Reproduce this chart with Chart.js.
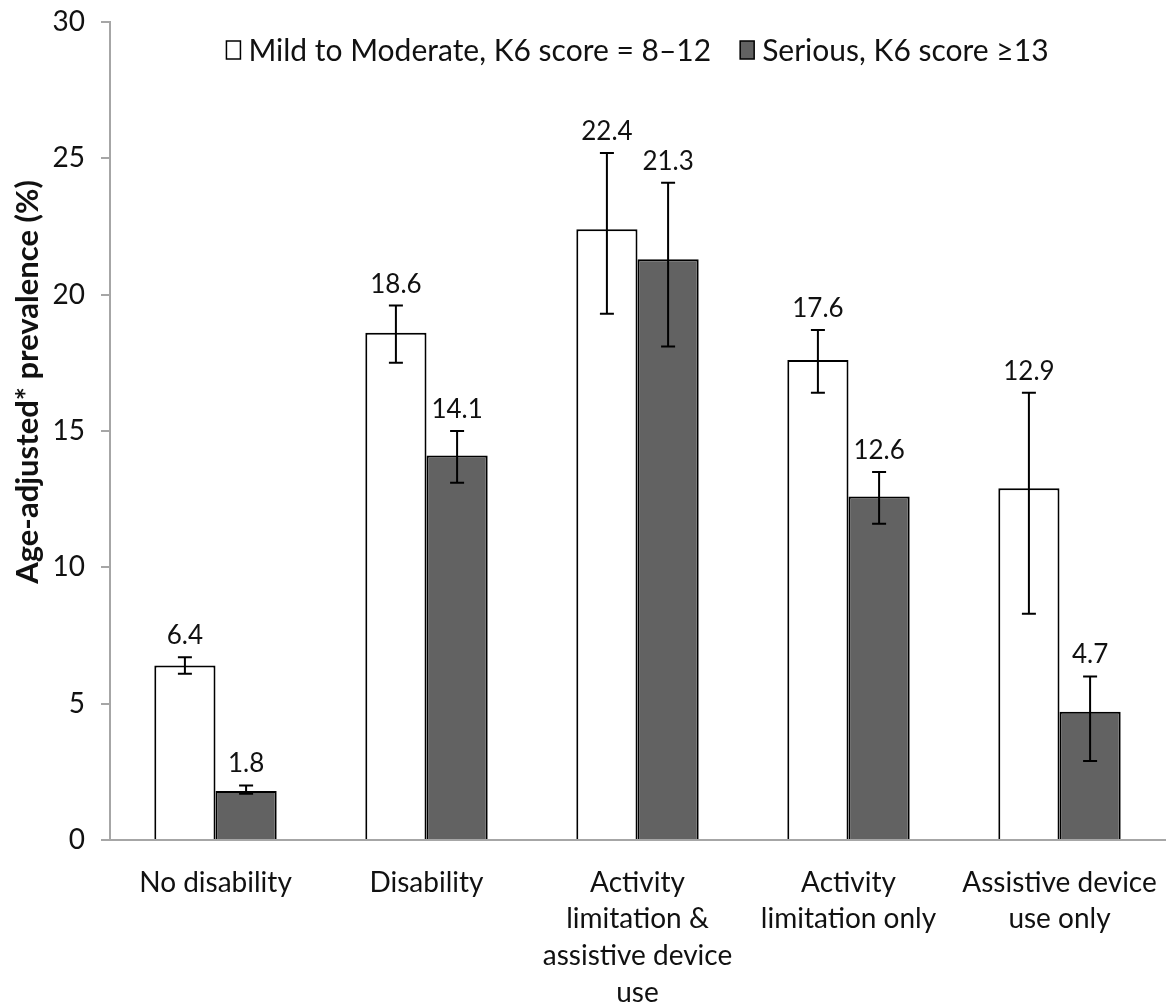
<!DOCTYPE html>
<html>
<head>
<meta charset="utf-8">
<script src="https://cdn.jsdelivr.net/npm/chart.js@4/dist/chart.umd.min.js"></script>
<style>
  html, body { margin: 0; padding: 0; background: #fff; }
  #wrap { width: 1166px; height: 1007px; }
</style>
</head>
<body>
<div id="wrap"><canvas id="chart" width="1166" height="1007"></canvas></div>
<script>
const categories = [
    ['No disability'],
    ['Disability'],
    ['Activity', 'limitation &', 'assistive device', 'use'],
    ['Activity', 'limitation only'],
    ['Assistive device', 'use only']
];
const seriesNames = ['Mild to Moderate, K6 score = 8–12', 'Serious, K6 score ≥13'];
const mildValues = [6.4, 18.6, 22.4, 17.6, 12.9];
const mildLow = [6.1, 17.5, 19.3, 16.4, 8.3];
const mildHigh = [6.7, 19.6, 25.2, 18.7, 16.4];
const seriousValues = [1.8, 14.1, 21.3, 12.6, 4.7];
const seriousLow = [1.7, 13.1, 18.1, 11.6, 2.9];
const seriousHigh = [2.0, 15.0, 24.1, 13.5, 6.0];
const yMin = 0, yMax = 30, yStep = 5;
const yTitle = 'Age-adjusted* prevalence (%)';

const FONT = 'Lato, "Open Sans", sans-serif';
const errorLow = [mildLow, seriousLow];
const errorHigh = [mildHigh, seriousHigh];

// barras de erro + rótulos de valor
const errorBars = {
    id: 'errorBars',
    afterDatasetsDraw(chart) {
        const ctx = chart.ctx;
        const y = chart.scales.y;
        ctx.save();
        chart.data.datasets.forEach((ds, di) => {
            const meta = chart.getDatasetMeta(di);
            meta.data.forEach((bar, i) => {
                const top = y.getPixelForValue(errorHigh[di][i]);
                const bot = y.getPixelForValue(errorLow[di][i]);
                ctx.strokeStyle = '#000';
                ctx.lineWidth = 2;
                ctx.beginPath();
                ctx.moveTo(bar.x, top); ctx.lineTo(bar.x, bot);
                ctx.moveTo(bar.x - 7, top); ctx.lineTo(bar.x + 7, top);
                ctx.moveTo(bar.x - 7, bot); ctx.lineTo(bar.x + 7, bot);
                ctx.stroke();
                ctx.fillStyle = '#111';
                ctx.font = '26px ' + FONT;
                ctx.textAlign = 'center';
                ctx.textBaseline = 'alphabetic';
                ctx.fillText(ds.data[i].toFixed(1), bar.x, top - 13);
            });
        });
        ctx.restore();
    }
};

// legenda dentro da área do gráfico + título do eixo y
const innerLegend = {
    id: 'innerLegend',
    afterDraw(chart) {
        const ctx = chart.ctx;
        const area = chart.chartArea;
        ctx.save();
        ctx.font = '30px ' + FONT;
        ctx.textBaseline = 'middle';
        ctx.textAlign = 'left';
        const boxW = 14, boxH = 18, gapBox = 8, gapItem = 29;
        const items = chart.data.datasets.map(ds => ({ ds, w: boxW + gapBox + ctx.measureText(ds.label).width }));
        const total = items.reduce((s, it) => s + it.w, 0) + gapItem * (items.length - 1);
        let x = (area.left + area.right) / 2 - total / 2;
        const cy = area.top + 28;
        items.forEach(it => {
            ctx.fillStyle = it.ds.backgroundColor;
            ctx.fillRect(x, cy - boxH / 2, boxW, boxH);
            ctx.strokeStyle = '#000';
            ctx.lineWidth = 1.5;
            ctx.strokeRect(x, cy - boxH / 2, boxW, boxH);
            ctx.fillStyle = '#111';
            ctx.fillText(it.ds.label, x + boxW + gapBox, cy + 1);
            x += it.w + gapItem;
        });

        // título do eixo (posição como no original, acima do centro)
        ctx.translate(28, chart.scales.y.getPixelForValue(16.8));
        ctx.rotate(-Math.PI / 2);
        ctx.font = 'bold 31px ' + FONT;
        ctx.textAlign = 'center';
        ctx.fillText(yTitle, 0, 0);
        ctx.restore();
    }
};

new Chart(document.getElementById('chart'), {
    type: 'bar',
    data: {
        labels: categories,
        datasets: [
            {
                label: seriesNames[0],
                data: mildValues,
                backgroundColor: '#ffffff',
                borderColor: '#000000',
                borderWidth: 2,
                categoryPercentage: 0.58,
                barPercentage: 1.0
            },
            {
                label: seriesNames[1],
                data: seriousValues,
                backgroundColor: '#626262',
                borderColor: '#000000',
                borderWidth: 2,
                categoryPercentage: 0.58,
                barPercentage: 1.0
            }
        ]
    },
    options: {
        responsive: false,
        animation: false,
        devicePixelRatio: 1,
        layout: { padding: { top: 22, right: 1, left: 0, bottom: 0 } },
        plugins: {
            legend: { display: false },
            tooltip: { enabled: false }
        },
        scales: {
            x: {
                grid: { display: false, drawTicks: false },
                border: { display: true, color: '#a6a6a6', width: 2 },
                ticks: {
                    color: '#111',
                    font: { family: FONT, size: 28, lineHeight: 1.32 },
                    padding: 24,
                    maxRotation: 0,
                    autoSkip: false
                },
                afterFit: (scale) => {
                    scale.height = 167;
                    scale.paddingLeft = 0;
                    scale.paddingRight = 0;
                }
            },
            y: {
                min: yMin,
                max: yMax,
                ticks: {
                    stepSize: yStep,
                    color: '#111',
                    font: { family: FONT, size: 28 },
                    padding: 16
                },
                grid: { drawOnChartArea: false, drawTicks: true, tickLength: 9, color: '#a6a6a6', lineWidth: 2 },
                border: { display: true, color: '#a6a6a6', width: 2 },
                afterFit: (scale) => {
                    scale.width = 110;
                    scale.paddingTop = 0;
                    scale.paddingBottom = 0;
                }
            }
        }
    },
    plugins: [errorBars, innerLegend]
});
</script>
</body>
</html>
